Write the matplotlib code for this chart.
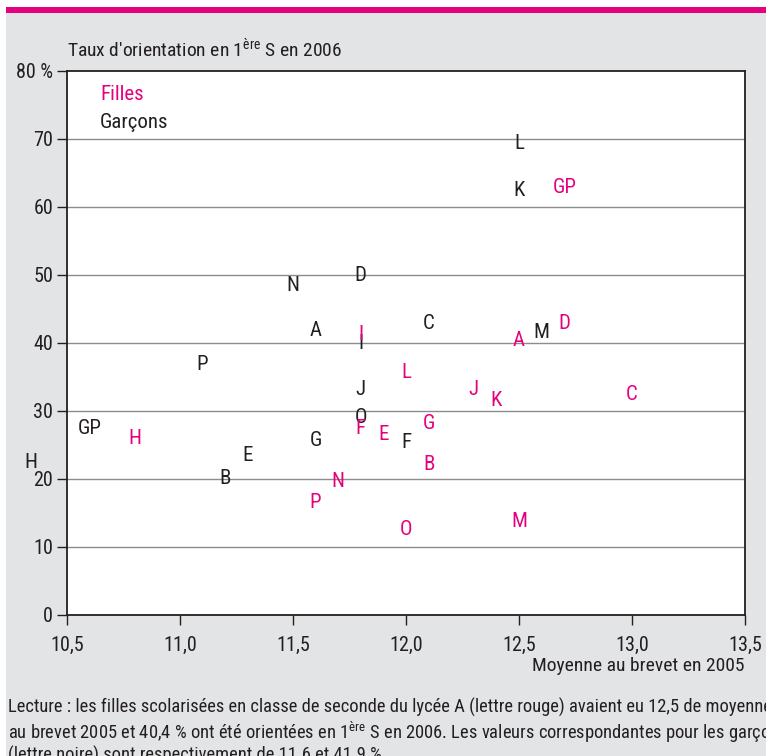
import matplotlib
matplotlib.use("Agg")
from matplotlib import pyplot as plt
from matplotlib.patches import Rectangle
from matplotlib import font_manager

# Data (moyenne au brevet 2005, taux d'orientation en 1re S 2006)
garcons_labels = ["L", "K", "D", "N", "A", "C", "I", "M", "P", "J", "O", "G", "F", "E", "B", "GP", "H"]
garcons_x = [12.5, 12.5, 11.8, 11.5, 11.6, 12.1, 11.8, 12.6, 11.1, 11.8, 11.8, 11.6, 12.0, 11.3, 11.2, 10.6, 10.34]
garcons_y = [69.4, 62.4, 49.9, 48.5, 41.9, 42.8, 39.9, 41.5, 36.9, 33.2, 29.0, 25.7, 25.4, 23.5, 20.0, 27.5, 22.4]

filles_labels = ["GP", "D", "A", "I", "L", "J", "K", "C", "G", "F", "E", "H", "B", "N", "P", "O", "M"]
filles_x = [12.7, 12.7, 12.5, 11.8, 12.0, 12.3, 12.4, 13.0, 12.1, 11.8, 11.9, 10.8, 12.1, 11.7, 11.6, 12.0, 12.5]
filles_y = [62.8, 42.9, 40.4, 41.2, 35.7, 33.1, 31.5, 32.5, 28.2, 27.4, 26.6, 26.0, 22.1, 19.7, 16.5, 12.6, 13.7]

x_ticks = [10.5, 11.0, 11.5, 12.0, 12.5, 13.0, 13.5]
y_ticks = [0, 10, 20, 30, 40, 50, 60, 70, 80]

caption_lines = [
    "Lecture : les filles scolarisées en classe de seconde du lycée A (lettre rouge) avaient eu 12,5 de moyenne",
    "au brevet 2005 et 40,4 % ont été orientées en 1$^{\\mathrm{ère}}$ S en 2006. Les valeurs correspondantes pour les garçons",
    "(lettre noire) sont respectivement de 11.6 et 41.9 %.",
]

PINK = "#e5007e"
DARK = "#231f20"
GREY_BG = "#e3e4e6"

# narrowest font available (reference uses a condensed face)
names = {f.name for f in font_manager.fontManager.ttflist}
main_font = "DejaVu Sans"
for cand in ["Roboto Condensed", "Liberation Sans Narrow", "Roboto"]:
    if cand in names:
        main_font = cand
        break
plt.rcParams['font.family'] = [main_font, "DejaVu Sans"]
plt.rcParams['mathtext.fontset'] = 'custom'
plt.rcParams['mathtext.rm'] = main_font

fig = plt.figure(figsize=(7.66, 7.56), dpi=100)
fig.patch.set_facecolor("white")

# grey panel and pink bar at the top
fig.patches.append(Rectangle((6 / 766, 0), 1, 1 - 12 / 756, transform=fig.transFigure,
                             facecolor=GREY_BG, edgecolor="none", zorder=-2))
fig.patches.append(Rectangle((6 / 766, 1 - 12.5 / 756), 1, 5.5 / 756, transform=fig.transFigure,
                             facecolor=PINK, edgecolor="none", zorder=-1))

ax = fig.add_axes([67 / 766, 1 - 615 / 756, 678 / 766, 544 / 756])
ax.set_facecolor("white")
ax.set_xlim(10.5, 13.5)
ax.set_ylim(0, 80)

ax.set_xticks(x_ticks)
ax.set_xticklabels([f"{t:.1f}".replace(".", ",") for t in x_ticks])
ax.set_yticks(y_ticks)
ax.set_yticklabels([str(t) if t < 80 else "80 %" for t in y_ticks])
ax.tick_params(axis="both", direction="out", length=7, width=1, color=DARK,
               labelsize=14.5, labelcolor=DARK)
ax.tick_params(axis="x", pad=8)
ax.tick_params(axis="y", pad=3)

for t in y_ticks[1:-1]:
    ax.axhline(t, color="#8c8c8c", linewidth=1, zorder=0)

for s in ax.spines.values():
    s.set_color(DARK)
    s.set_linewidth(1.3)

# letters for each lycee
for lab, x, y in zip(garcons_labels, garcons_x, garcons_y):
    ax.text(x, y, lab, color=DARK, fontsize=15, ha="center", va="center", clip_on=False)
for lab, x, y in zip(filles_labels, filles_x, filles_y):
    ax.text(x, y, lab, color=PINK, fontsize=15, ha="center", va="center", clip_on=False)

# legend as text
ax.text(0.049, 0.957, "Filles", color=PINK, fontsize=15, transform=ax.transAxes, va="center")
ax.text(0.049, 0.905, "Garçons", color=DARK, fontsize=15, transform=ax.transAxes, va="center")

# titles
fig.text(67 / 766, 1 - 49 / 756, "Taux d'orientation en 1$^{\\mathrm{ère}}$ S en 2006",
         color=DARK, fontsize=14, va="center", ha="left")
fig.text(745 / 766, 1 - 666 / 756, "Moyenne au brevet en 2005",
         color=DARK, fontsize=14, va="center", ha="right")

# reading note under the chart, one line at a time
for i, line in enumerate(caption_lines):
    fig.text(8 / 766, 1 - (705 + 24 * i) / 756, line, color=DARK, fontsize=13.3,
             va="center_baseline", ha="left")

fig.savefig("out.png", dpi=100, facecolor=fig.get_facecolor())
